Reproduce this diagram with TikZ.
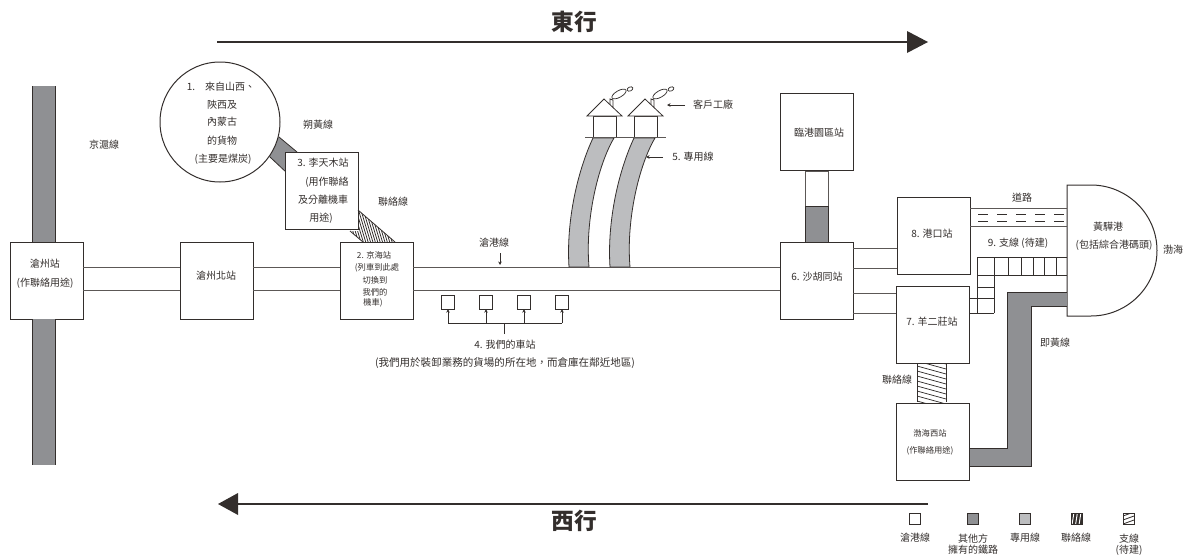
\documentclass[tikz,border=0pt]{standalone}
\usepackage{fontspec}
\setmainfont{Noto Sans CJK TC}
\usetikzlibrary{arrows.meta,backgrounds}
\definecolor{ink}{HTML}{332E2C}
\definecolor{railgrey}{HTML}{8F9093}
\definecolor{privgrey}{HTML}{BCBDBF}
\tikzset{
  stn/.style={draw=ink,fill=white,line width=.75pt,inner sep=0pt,outer sep=0pt,minimum width=54.75pt,minimum height=57.75pt},
  txt/.style={inner sep=0pt,text=ink,align=center,font=\fontsize{7.5}{10}\selectfont},
  small/.style={inner sep=0pt,text=ink,align=center,font=\fontsize{6.2}{8}\selectfont},
  tinyl/.style={inner sep=0pt,text=ink,align=center,font=\fontsize{7.5}{8.25}\selectfont},
  titl/.style={inner sep=0pt,text=ink,font=\fontsize{17}{20}\bfseries\selectfont},
  rail/.style={draw=ink!80,line width=.75pt},
  band/.style={draw=ink,fill=railgrey,line width=.6pt},
  priv/.style={draw=ink,fill=privgrey,line width=.6pt},
  thin/.style={draw=ink,line width=.6pt},
  bigarrow/.style={draw=ink,line width=1.1pt},
  ptr/.style={draw=ink,line width=.6pt,-{Stealth[length=2.6pt,width=2.6pt]}},
  swatch/.style={draw=ink,line width=.6pt,fill=white,minimum size=8.25pt,inner sep=0pt,outer sep=0pt},
  depot/.style={draw=ink,line width=.6pt,fill=white,minimum size=10pt,inner sep=0pt,outer sep=0pt}
}
\begin{document}
\begin{tikzpicture}[x=.75pt,y=-.75pt]
\useasboundingbox (0,0) rectangle (1193,557);

% stations
\node[stn] (cangzhou) at (46.5,280.5) {};
\node[stn] (north) at (216.5,280.5) {};
\node[stn] (jinghai) at (376.5,280.5) {};
\node[stn] (litianmu) at (321.5,191) {};
\node[stn] (shahu) at (816.5,281) {};
\node[stn] (lingang) at (816.5,132) {};
\node[stn] (gangkou) at (933.5,236) {};
\node[stn] (yanger) at (932.5,325) {};
\node[stn] (bohaiw) at (933,441.5) {};
\node[draw=ink,fill=white,circle,line width=.75pt,minimum size=90pt,inner sep=0pt,outer sep=0pt] (source) at (220,122) {};

% port
\coordinate (portL) at (1067,250.5);
\draw[ink,fill=white,line width=.75pt] (1067,185) -- (1091,185) .. controls (1127,185) and (1157,214) .. (1157,250.5) .. controls (1157,287) and (1127,316) .. (1091,316) -- (1067,316) -- cycle;

% Jinghu line
\fill[railgrey] (32,86) rectangle (55,242);
\fill[railgrey] (32,319) rectangle (55,465);
\draw[ink,line width=.5pt] (32,86) -- (32,242) (55,86) -- (55,242) (32,319) -- (32,465) (55,319) -- (55,465);

% main rails
\foreach \y in {267.5,290.5}{
  \draw[rail] (cangzhou.east |- 0,\y) -- (north.west |- 0,\y);
  \draw[rail] (north.east |- 0,\y) -- (jinghai.west |- 0,\y);
  \draw[rail] (jinghai.east |- 0,\y) -- (shahu.west |- 0,\y);
}
\foreach \y in {248,268}{\draw[rail] (shahu.east |- 0,\y) -- (gangkou.west |- 0,\y);}
\foreach \y in {293,313}{\draw[rail] (shahu.east |- 0,\y) -- (yanger.west |- 0,\y);}

% Lingang link
\draw[rail,fill=white] (805,171) rectangle (828,206);
\draw[band] (805,206) rectangle (828,242);

% Shuohuang band, behind circle and box
\begin{scope}[on background layer]
  \fill[railgrey] (274,133) -- (302,156) -- (292,177) -- (265,153) -- cycle;
  \draw[ink,line width=.6pt] (279,137) -- (297,152) (270,157) -- (287,173);
\end{scope}

% link 3-2 hatched
\begin{scope}
  \clip (358,210) -- (395,242) -- (363,242) -- (350,231) -- (358,231) -- cycle;
  \foreach \k in {0,2.4,...,60}{\draw[ink,line width=.6pt] (345+\k,205) -- (357+\k,245);}
\end{scope}
\draw[ink,line width=.6pt] (358,210) -- (395,242) (350,231) -- (363,242);

% road
\draw[rail] (gangkou.east |- 0,208) -- (portL |- 0,208);
\draw[rail] (gangkou.east |- 0,226) -- (portL |- 0,226);
\foreach \x in {978,997,1016,1035,1054}{
  \draw[ink,line width=.6pt] (\x,214) -- (\x+10,214) (\x,221) -- (\x+10,221);
}

% branch line
\draw[thin] (977,313) -- (977,257) -- (portL |- 0,257);
\draw[thin] (994,313) -- (994,275) -- (portL |- 0,275);
\draw[thin] (yanger.east |- 0,313) -- (994,313);
\draw[thin] (yanger.east |- 0,298) -- (994,298);
\draw[thin] (977,275) -- (994,275) (977,287) -- (994,287);
\foreach \x in {994,1008,1021,1033,1044,1056}{\draw[thin] (\x,257) -- (\x,275);}

% Jihuang line
\draw[band] (portL |- 0,292) -- (1007,292) -- (1007,448) -- (bohaiw.east |- 0,448) -- (bohaiw.east |- 0,466) -- (1031,466) -- (1031,306) -- (portL |- 0,306);

% link 7 - Bohai West hatched
\begin{scope}
  \clip (917,364) rectangle (946,402);
  \foreach \y in {346,351,...,410}{\draw[ink,line width=.55pt] (917,\y) -- (946,\y+8);}
\end{scope}
\draw[ink,line width=.6pt] (917,364) -- (917,402) (946,364) -- (946,402);

% factories
\draw[priv] (593,138) .. controls (578,170) and (566,220) .. (569,267) -- (589,267) .. controls (585,220) and (598,165) .. (614,138) -- cycle;
\draw[priv] (634,138) .. controls (619,170) and (607,220) .. (610,267) -- (630,267) .. controls (626,220) and (639,165) .. (655,138) -- cycle;
\foreach \d in {0,41}{
  \begin{scope}[xshift=\d*.75pt]
    \draw[ink,line width=.6pt,fill=white] (593,116) rectangle (616,137);
    \draw[ink,line width=.6pt,fill=white] (610,99) -- (610,107) -- (613,107) -- (613,100) -- cycle;
    \draw[ink,line width=.6pt,fill=white] (587,116) -- (604,99) -- (622,116) -- cycle;
    \draw[ink,line width=.55pt,shift={(619,94)},rotate=30] (0,0) ellipse [x radius=8,y radius=3.3];
    \draw[ink,line width=.55pt,shift={(630,89)},rotate=25] (0,0) ellipse [x radius=3,y radius=2];
  \end{scope}
}
\draw[rail] (585,137) -- (666,137);
\coordinate (fpointer) at (667,105);
\coordinate (fptail) at (685,105);
\draw[ptr] (fptail) -- (fpointer);
\coordinate (ppointer) at (646,157);
\coordinate (pptail) at (663,157);
\draw[ptr] (pptail) -- (ppointer);
\coordinate (cgtail) at (500,253);
\coordinate (cghead) at (500,265);
\draw[ptr] (cgtail) -- (cghead);

% our depots
\node[depot] (d1) at (448,302.5) {};
\node[depot] (d2) at (486,302.5) {};
\node[depot] (d3) at (524,302.5) {};
\node[depot] (d4) at (562,302.5) {};
\coordinate (hub) at (504,323);
\coordinate (stem) at (504,334);
\draw[thin] (stem) -- (hub);
\draw[thin] (d1 |- hub) -- (d4 |- hub);
\foreach \n in {d1,d2,d3,d4}{\draw[ptr] (\n |- hub) -- (\n.south);}

% big arrows
\coordinate (eastA) at (217,42);
\coordinate (eastB) at (908,42);
\draw[bigarrow] (eastA) -- (eastB);
\fill[ink] (907,31) -- (928,42) -- (907,53) -- cycle;
\coordinate (westA) at (928,504);
\coordinate (westB) at (238,504);
\draw[bigarrow] (westA) -- (westB);
\fill[ink] (238,493) -- (218,504) -- (238,515) -- cycle;
\node[titl] (teast) at (574,22) {東行};
\node[titl] (twest) at (574,521) {西行};

% labels
\node[txt] (t1a) at (191,87) {1.};
\node[txt] (t1b) at (230,87) {來自山西、};
\node[txt] (t1c) at (222,105) {陝西及};
\node[txt] (t1d) at (222,122) {內蒙古};
\node[txt] (t1e) at (222,141) {的貨物};
\node[txt] (t1f) at (223,159) {(主要是煤炭)};
\node[txt] (t3a) at (323,163) {3. 李天木站};
\node[txt] (t3b) at (327,182) {(用作聯絡};
\node[txt] (t3c) at (323,200) {及分離機車};
\node[txt] (t3d) at (321,218) {用途)};
\node[small] (t2a) at (374,255) {2. 京海站};
\node[small] (t2b) at (377,268) {(列車到此處};
\node[small] (t2c) at (375,280) {切換到};
\node[small] (t2d) at (375,292) {我們的};
\node[small] (t2e) at (373,303) {機車)};
\node[txt] (tcz) at (45,264) {滄州站};
\node[txt] (tcz2) at (45,283) {(作聯絡用途)};
\node[txt] (tczb) at (216,276) {滄州北站};
\node[txt] (tjh) at (104,145) {京滬線};
\node[txt] (tsh) at (318,125) {朔黃線};
\node[txt] (tll1) at (393,202) {聯絡線};
\node[txt] (tcg) at (494,243) {滄港線};
\node[txt] (t4a) at (505,345) {4. 我們的車站};
\node[txt,font=\fontsize{7.9}{10}\selectfont] (t4b) at (505,363) {(我們用於裝卸業務的貨場的所在地，而倉庫在鄰近地區)};
\node[txt] (tfac) at (713,105) {客戶工廠};
\node[txt] (t5) at (693,157) {5. 專用線};
\node[txt] (tlg) at (819,133) {臨港園區站};
\node[txt] (t6) at (817,277) {6. 沙胡同站};
\node[txt] (t8) at (932,234) {8. 港口站};
\node[txt] (t7) at (932,322) {7. 羊二莊站};
\node[small] (tbw1) at (930,433) {渤海西站};
\node[small] (tbw2) at (930,451) {(作聯絡用途)};
\node[txt] (troad) at (1022,198) {道路};
\node[txt] (t9) at (1018,243) {9. 支線 (待建)};
\node[txt] (thh1) at (1108,227) {黃驊港};
\node[txt] (thh2) at (1114,245) {(包括綜合港碼頭)};
\node[txt] (tbh) at (1173,250) {渤海};
\node[txt] (tjih) at (1055,343) {即黃線};
\node[txt] (tll2) at (897,380) {聯絡線};

% legend
\node[swatch] (k1) at (914.5,518.5) {};
\node[swatch,fill=railgrey] (k2) at (972.5,518.5) {};
\node[swatch,fill=privgrey] (k3) at (1024.5,518.5) {};
\node[swatch,fill=ink] (k4) at (1076.5,518.5) {};
\node[swatch] (k5) at (1128.5,518.5) {};
\begin{scope}
  \clip (k4.south west) rectangle (k4.north east);
  \foreach \x in {1073,1076.5,1080}{\draw[white,line width=.7pt] (\x-1,525) -- (\x+1,512);}
\end{scope}
\draw[ink,line width=.6pt] (k4.south west) rectangle (k4.north east);
\begin{scope}
  \clip (k5.south west) rectangle (k5.north east);
  \draw[ink,line width=.6pt] (1123,516) -- (1134,512) (1123,520) -- (1134,516) (1123,524) -- (1134,520);
\end{scope}
\node[tinyl] (l1) at (915,538) {滄港線};
\node[tinyl,anchor=north] (l2) at (973,533.5) {其他方\\擁有的鐵路};
\node[tinyl] (l3) at (1025,538) {專用線};
\node[tinyl] (l4) at (1076,538) {聯絡線};
\node[tinyl,anchor=north] (l5) at (1129,533.5) {支線\\(待建)};
\end{tikzpicture}
\end{document}
